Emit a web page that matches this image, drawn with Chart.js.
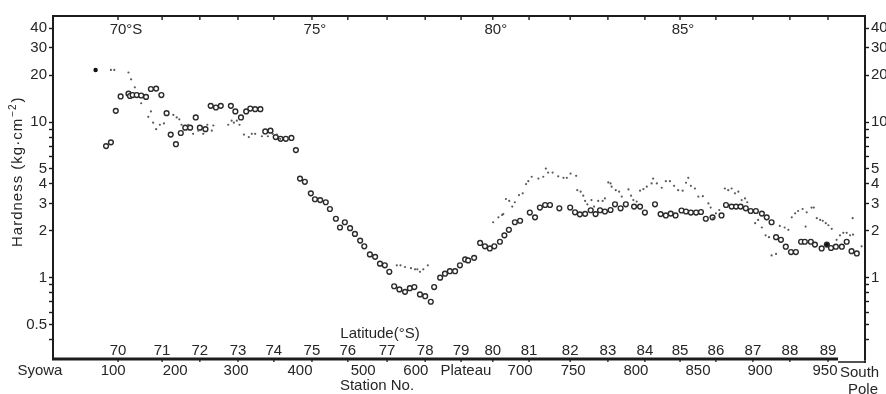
<!DOCTYPE html>
<html>
<head>
<meta charset="utf-8">
<title>Snow hardness along the traverse</title>
<script src="https://cdn.jsdelivr.net/npm/chart.js@4.4.1/dist/chart.umd.min.js"></script>
<style>
  html, body { margin: 0; padding: 0; background: #fff; }
  #wrap { width: 886px; height: 394px; }
</style>
</head>
<body>
<div id="wrap"><canvas id="chart" width="886" height="394"></canvas></div>
<script>
'use strict';

/* ---- data (x = position along the route, in degrees of latitude) ---- */

// open circles
const circlePos = [
  69.68, 69.81, 69.94, 70.07, 70.28, 70.32, 70.39, 70.50, 70.62, 70.75,
  70.88, 71.02, 71.16, 71.30, 71.41, 71.55, 71.68, 71.80, 71.93, 72.08,
  72.19, 72.34, 72.48, 72.62, 72.75, 73.02, 73.14, 73.29, 73.43, 73.54,
  73.67, 73.81, 73.94, 74.08, 74.22, 74.35, 74.49, 74.64, 74.76, 74.87,
  75.00, 75.16, 75.27, 75.41, 75.56, 75.67, 75.83, 75.94, 76.07, 76.21,
  76.34, 76.48, 76.59, 76.74, 76.88, 77.01, 77.14, 77.26, 77.39, 77.53,
  77.68, 77.81, 77.93, 78.08, 78.22, 78.37, 78.46, 78.62, 78.75, 78.88,
  79.02, 79.15, 79.29, 79.37, 79.53, 79.69, 79.82, 79.95, 80.07, 80.22,
  80.34, 80.46, 80.62, 80.76, 81.02, 81.16, 81.29, 81.43, 81.56, 81.81,
  82.10, 82.23, 82.36, 82.50, 82.65, 82.78, 82.90, 83.03, 83.18, 83.30,
  83.45, 83.59, 83.81, 83.97, 84.10, 84.37, 84.52, 84.66, 84.79, 84.92,
  85.08, 85.20, 85.33, 85.47, 85.60, 85.73, 85.91, 86.15, 86.27, 86.42,
  86.54, 86.66, 86.80, 86.93, 87.07, 87.23, 87.36, 87.49, 87.61, 87.74,
  87.87, 88.01, 88.14, 88.28, 88.38, 88.54, 88.65, 88.83, 88.97, 89.08,
  89.21, 89.37, 89.50, 89.63, 89.77
];
const circleHardness = [
  7.0, 7.4, 11.8, 14.6, 15.2, 14.7, 14.9, 14.9, 14.8, 14.5,
  16.3, 16.4, 14.9, 11.4, 8.3, 7.2, 8.5, 9.2, 9.2, 10.7,
  9.2, 9.0, 12.7, 12.4, 12.7, 12.7, 11.7, 10.7, 11.7, 12.2,
  12.1, 12.1, 8.7, 8.8, 8.0, 7.8, 7.8, 7.9, 6.6, 4.33,
  4.13, 3.48, 3.19, 3.15, 3.05, 2.76, 2.39, 2.10, 2.27, 2.08,
  1.91, 1.73, 1.59, 1.41, 1.36, 1.23, 1.20, 1.09, 0.88, 0.84,
  0.81, 0.855, 0.87, 0.78, 0.76, 0.70, 0.87, 1.00, 1.06, 1.10,
  1.10, 1.20, 1.31, 1.29, 1.34, 1.67, 1.59, 1.54, 1.59, 1.70,
  1.87, 2.03, 2.27, 2.32, 2.62, 2.44, 2.82, 2.93, 2.93, 2.79,
  2.82, 2.63, 2.55, 2.57, 2.71, 2.56, 2.71, 2.66, 2.72, 2.96,
  2.79, 2.96, 2.86, 2.86, 2.62, 2.96, 2.56, 2.51, 2.58, 2.51,
  2.70, 2.66, 2.62, 2.62, 2.64, 2.39, 2.44, 2.51, 2.93, 2.86,
  2.86, 2.86, 2.79, 2.68, 2.68, 2.58, 2.44, 2.27, 1.82, 1.75,
  1.58, 1.46, 1.46, 1.70, 1.70, 1.70, 1.63, 1.54, 1.63, 1.55,
  1.58, 1.58, 1.70, 1.48, 1.43
];
const filledCirclePos = [88.97];

// small dots
const dotPos = [
  69.40, 69.81, 69.90, 70.28, 70.35, 70.45, 70.62, 70.81, 70.88, 70.94,
  71.02, 71.12, 71.23, 71.48, 71.57, 71.64, 71.70, 71.88, 72.01, 72.15,
  72.28, 72.39, 72.51, 72.55, 72.95, 73.04, 73.10, 73.18, 73.25, 73.37,
  73.50, 73.58, 73.67, 73.85, 74.01, 74.14, 74.25, 74.34,
  77.46, 77.56, 77.68, 77.84, 77.95, 78.01, 78.08, 78.17, 78.29,
  80.04, 80.18, 80.28, 80.31, 80.38, 80.47, 80.55, 80.62, 80.73, 80.83,
  80.92, 80.98, 81.07, 81.25, 81.38, 81.45, 81.51, 81.63, 81.78, 81.92,
  82.01, 82.11, 82.26, 82.29, 82.38, 82.45, 82.50, 82.56, 82.67, 82.74,
  82.85, 82.97, 83.03, 83.12, 83.18, 83.21, 83.32, 83.41, 83.48, 83.66,
  83.73, 83.79, 83.88, 83.97, 84.06, 84.15, 84.28, 84.32, 84.42, 84.55,
  84.66, 84.77, 84.88, 84.99, 85.11, 85.20, 85.26, 85.33, 85.44, 85.53,
  85.65, 85.80, 85.86, 85.93, 86.00, 86.09, 86.24, 86.33, 86.42, 86.51,
  86.60, 86.69, 86.78, 86.84, 87.05, 87.13, 87.23, 87.33, 87.42, 87.49,
  87.61, 87.71, 87.84, 87.94, 88.03, 88.12, 88.20, 88.32, 88.40, 88.43,
  88.56, 88.62, 88.70, 88.79, 88.86, 88.94, 89.01, 89.10, 89.23, 89.32,
  89.41, 89.50, 89.59, 89.66, 89.67, 89.90
];
const dotHardness = [
  21.6, 21.6, 21.6, 20.8, 18.8, 16.7, 13.2, 10.8, 11.7, 9.9,
  9.0, 9.6, 9.8, 11.1, 10.7, 10.4, 9.6, 9.6, 8.4, 8.8,
  8.4, 9.6, 8.8, 9.5, 9.6, 10.2, 9.9, 10.2, 9.6, 8.3,
  8.0, 8.4, 8.4, 8.1, 8.1, 8.4, 8.3, 7.8,
  1.20, 1.20, 1.17, 1.15, 1.13, 1.13, 1.09, 1.13, 1.20,
  2.27, 2.44, 2.53, 2.56, 3.20, 3.11, 2.86, 3.05, 3.39, 3.48,
  3.99, 4.17, 4.45, 4.33, 4.45, 5.02, 4.73, 4.73, 4.48, 4.38,
  4.38, 4.66, 4.51, 3.65, 3.57, 3.36, 3.11, 2.96, 3.15, 2.86,
  3.11, 3.11, 3.23, 4.09, 4.03, 3.84, 3.65, 3.57, 3.32, 3.69,
  3.36, 3.15, 3.08, 3.62, 3.71, 3.84, 4.03, 4.33, 4.03, 3.78,
  4.17, 4.17, 3.89, 3.65, 3.62, 4.07, 4.38, 3.89, 3.74, 3.32,
  3.34, 3.00, 2.82, 2.41, 2.59, 2.72, 3.74, 3.65, 3.74, 3.48,
  3.57, 3.15, 3.23, 3.05, 2.24, 2.35, 2.10, 1.87, 1.82, 1.39,
  1.42, 2.15, 2.10, 2.03, 2.44, 2.59, 2.68, 2.76, 2.13, 2.63,
  2.82, 2.82, 2.41, 2.35, 2.32, 2.24, 2.17, 2.06, 1.75, 1.87,
  1.94, 1.94, 1.87, 2.41, 1.89, 1.59
];

// axis labels
const yTicks = [0.4, 0.5, 0.6, 0.7, 0.8, 0.9, 1, 2, 3, 4, 5, 6, 7, 8, 9, 10, 20, 30, 40];
const yLabelsLeft = [0.5, 1, 2, 3, 4, 5, 10, 20, 30, 40];
const yLabelsRight = [1, 2, 3, 4, 5, 10, 20, 30, 40];

const latLabels = ['70','71','72','73','74','75','76','77','78','79',
                   '80','81','82','83','84','85','86','87','88','89'];
const latPos = [70.00, 71.18, 72.19, 73.21, 74.17, 75.19, 76.15, 77.20, 78.22, 79.18,
                80.03, 81.00, 82.10, 83.11, 84.10, 85.04, 86.00, 86.99, 87.98, 89.00];
const topLabels = { '70': '70°S', '75': '75°', '80': '80°', '85': '85°' };

const stationLabels = ['Syowa','100','200','300','400','500','600','Plateau',
                       '700','750','800','850','900','950'];
const stationPos = [67.91, 69.87, 71.53, 73.16, 74.87, 76.56, 77.97, 79.31,
                    80.76, 82.18, 83.86, 85.52, 87.18, 88.92];

const X_MIN = 68.26, X_MAX = 89.99;
const Y_MIN = 0.314, Y_MAX = 48.0;

/* ---- styling ---- */
const FONT = "'Liberation Sans', Arial, sans-serif";
const INK = '#1c1c1c';
const TEXT = '#262626';

Chart.defaults.font.family = FONT;
Chart.defaults.font.size = 15;
Chart.defaults.color = TEXT;

function toPoints(xs, ys) {
  return xs.map((x, i) => ({ x: x, y: ys[i] }));
}

function yAxis(position, width, labels) {
  return {
    type: 'logarithmic',
    position: position,
    min: Y_MIN,
    max: Y_MAX,
    afterFit(scale) { scale.width = width; },
    afterBuildTicks(scale) { scale.ticks = yTicks.map(v => ({ value: v })); },
    ticks: {
      autoSkip: false,
      padding: 2,
      color: TEXT,
      font: { size: 15 },
      callback: v => labels.includes(v) ? String(v) : ''
    },
    grid: { drawOnChartArea: false, drawTicks: true, tickLength: 4, tickColor: INK, tickWidth: 1.4 },
    border: { display: true, color: INK, width: 2 }
  };
}

/* ---- frame, latitude and station axes, titles ---- */
const framePlugin = {
  id: 'frame',
  afterDraw(chart) {
    const ctx = chart.ctx;
    const xs = chart.scales.x;
    const area = chart.chartArea;
    const px = v => xs.getPixelForValue(v);

    ctx.save();
    ctx.strokeStyle = INK;
    ctx.fillStyle = TEXT;

    // top latitude axis
    ctx.lineWidth = 2;
    ctx.beginPath();
    ctx.moveTo(area.left - 1, area.top);
    ctx.lineTo(area.right + 1, area.top);
    ctx.stroke();
    ctx.lineWidth = 1.4;
    latPos.forEach(p => {
      ctx.beginPath();
      ctx.moveTo(px(p), area.top);
      ctx.lineTo(px(p), area.top + 4);
      ctx.stroke();
    });
    ctx.font = '15px ' + FONT;
    ctx.textBaseline = 'middle';
    ctx.textAlign = 'left';
    latLabels.forEach((lab, i) => {
      const t = topLabels[lab];
      if (!t) return;
      const w = ctx.measureText(lab).width;
      ctx.fillText(t, px(latPos[i]) - w / 2, 30);
    });

    // bottom axis: thick part up to station 950, thin part to the pole
    const yb = area.bottom;
    const x950 = px(stationPos[stationPos.length - 1]) + 13;
    ctx.lineWidth = 3;
    ctx.beginPath();
    ctx.moveTo(area.left - 1, yb);
    ctx.lineTo(x950, yb);
    ctx.stroke();
    ctx.lineWidth = 1.5;
    ctx.beginPath();
    ctx.moveTo(x950, yb + 3);
    ctx.lineTo(area.right + 1, yb + 3);
    ctx.moveTo(area.right, yb);
    ctx.lineTo(area.right, yb + 4);
    ctx.stroke();
    ctx.lineWidth = 1.3;
    latPos.forEach(p => {
      ctx.beginPath();
      ctx.moveTo(px(p), yb);
      ctx.lineTo(px(p), yb + 3);
      ctx.stroke();
    });

    // latitude numbers above the bottom line
    ctx.textAlign = 'center';
    latLabels.forEach((lab, i) => ctx.fillText(lab, px(latPos[i]), 351));
    ctx.fillText('Latitude(°S)', 380, 334);

    // station numbers below the line
    stationLabels.forEach((lab, i) => ctx.fillText(lab, px(stationPos[i]), 371));
    ctx.fillText('Station No.', 377, 386);
    ctx.textAlign = 'left';
    ctx.fillText('South', area.right - 25, 373);
    ctx.textAlign = 'center';
    ctx.fillText('Pole', area.right - 2, 390);

    // y title
    ctx.translate(18, 247);
    ctx.rotate(-Math.PI / 2);
    ctx.textAlign = 'left';
    ctx.textBaseline = 'middle';
    ctx.letterSpacing = '1px';
    ctx.font = '15px ' + FONT;
    let x = 0;
    const main = 'Hardness (kg·cm';
    ctx.fillText(main, x, 0);
    x += ctx.measureText(main).width;
    ctx.font = '10px ' + FONT;
    ctx.fillText('−2', x + 1, -5);
    x += ctx.measureText('−2').width + 2;
    ctx.font = '15px ' + FONT;
    ctx.fillText(')', x, 0);

    ctx.restore();
  }
};

new Chart(document.getElementById('chart'), {
  type: 'scatter',
  data: {
    datasets: [
      {
        label: 'dots',
        data: toPoints(dotPos, dotHardness),
        pointStyle: 'circle',
        pointRadius: ctx => ctx.dataIndex === 0 ? 2.2 : 1.1,
        pointBorderWidth: 0,
        pointBackgroundColor: ctx => ctx.dataIndex === 0 ? '#111' : '#5a5a5a',
        pointHoverRadius: 1.1
      },
      {
        label: 'circles',
        data: toPoints(circlePos, circleHardness),
        pointStyle: 'circle',
        pointRadius: 2.4,
        pointBorderWidth: 1.4,
        pointBorderColor: '#2a2a2a',
        pointBackgroundColor: ctx =>
          filledCirclePos.includes(circlePos[ctx.dataIndex]) ? '#111' : '#ffffff'
      }
    ]
  },
  options: {
    responsive: false,
    animation: false,
    devicePixelRatio: 1,
    layout: { padding: { top: 16, bottom: 35, left: 0, right: 0 } },
    plugins: {
      legend: { display: false },
      tooltip: { enabled: false }
    },
    scales: {
      x: { type: 'linear', min: X_MIN, max: X_MAX, display: false },
      y: yAxis('left', 53, yLabelsLeft),
      y2: yAxis('right', 21, yLabelsRight)
    }
  },
  plugins: [framePlugin]
});
</script>
</body>
</html>
